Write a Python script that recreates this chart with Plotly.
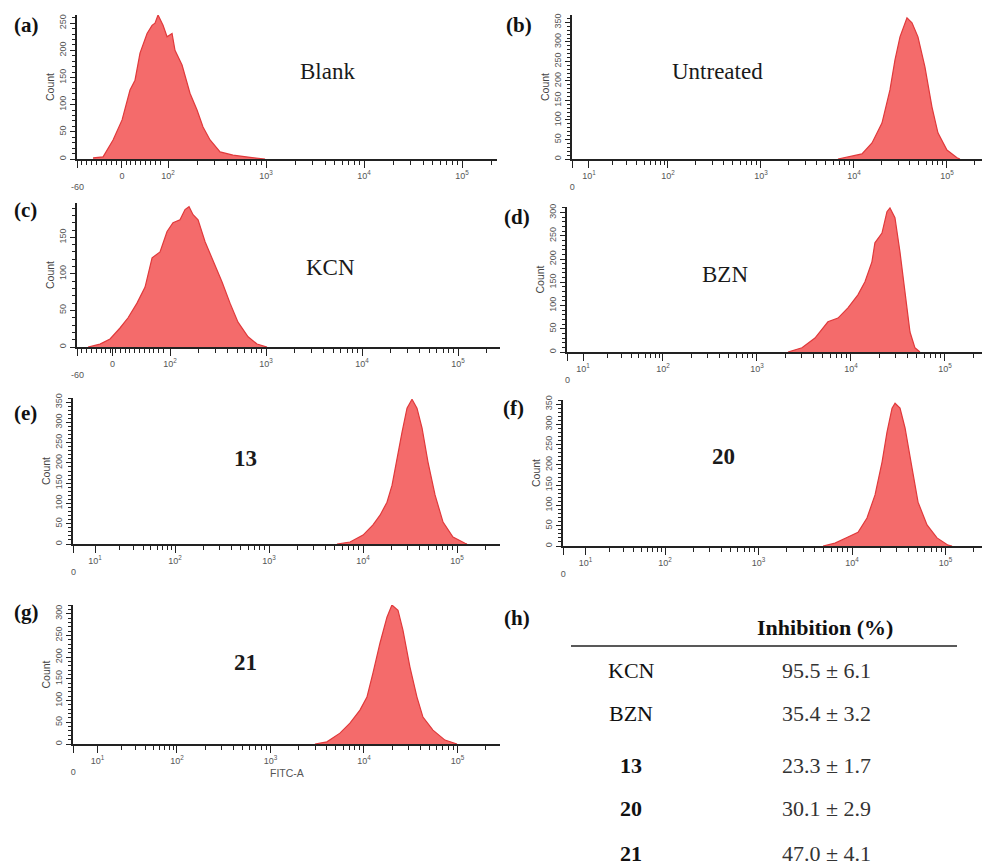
import numpy as np
import plotly.graph_objects as go

W, H = 990, 866
PAGE_OFFSET = 8  # browser body margin that shifts the figure on the page

# ---------------- data (FITC-A position in display decades, cell count) ----------------
blank_x = [1.235, 1.337, 1.439, 1.531, 1.612, 1.663, 1.714, 1.786, 1.837, 1.867, 1.898, 1.949,
           1.990, 2.041, 2.071, 2.143, 2.224, 2.296, 2.357, 2.429, 2.531, 2.663, 2.837, 2.990]
blank_count = [2, 4, 35, 72, 127, 145, 195, 231, 246, 250, 265, 246,
               225, 231, 200, 173, 121, 90, 59, 35, 13, 7, 3, 0]

untreated_x = [3.828, 3.935, 4.086, 4.194, 4.301, 4.387, 4.441, 4.495, 4.570, 4.624, 4.688,
               4.763, 4.839, 4.903, 5.000, 5.108, 5.140]
untreated_count = [0, 5, 13, 41, 92, 177, 254, 313, 362, 349, 313, 236, 133, 67, 23, 3, 0]

kcn_x = [1.146, 1.271, 1.375, 1.479, 1.563, 1.656, 1.740, 1.813, 1.896, 1.969, 2.031, 2.104,
         2.156, 2.198, 2.240, 2.292, 2.365, 2.448, 2.542, 2.625, 2.708, 2.813, 2.906, 3.010]
kcn_count = [0, 4, 11, 26, 40, 60, 82, 122, 130, 158, 170, 174,
             188, 192, 181, 174, 144, 119, 89, 60, 34, 14, 4, 0]

bzn_x = [3.330, 3.479, 3.617, 3.755, 3.862, 3.968, 4.074, 4.149, 4.223, 4.255, 4.330, 4.383,
         4.415, 4.468, 4.521, 4.574, 4.628, 4.681, 4.734]
bzn_count = [0, 9, 30, 65, 73, 95, 123, 151, 194, 235, 256, 302,
             310, 289, 216, 129, 43, 9, 0]

c13_x = [3.723, 3.862, 4.000, 4.106, 4.181, 4.255, 4.309, 4.362, 4.415, 4.468, 4.521, 4.574,
         4.628, 4.691, 4.766, 4.851, 4.957, 5.085, 5.106]
c13_count = [0, 5, 22, 47, 71, 103, 145, 212, 276, 335, 357, 335,
             286, 202, 121, 54, 17, 2, 0]

c20_x = [3.690, 3.818, 3.957, 4.064, 4.160, 4.246, 4.321, 4.374, 4.428, 4.460, 4.513, 4.567,
         4.642, 4.706, 4.802, 4.909, 5.027, 5.070]
c20_count = [0, 7, 22, 34, 69, 126, 207, 281, 340, 352, 340, 291,
             192, 108, 52, 20, 2, 0]

c21_x = [3.476, 3.604, 3.743, 3.850, 3.957, 4.032, 4.096, 4.171, 4.246, 4.299, 4.364, 4.417,
         4.492, 4.567, 4.631, 4.738, 4.866, 4.995]
c21_count = [0, 5, 25, 48, 78, 108, 163, 232, 292, 320, 308, 262,
             177, 108, 62, 32, 9, 0]

sample_labels = ["Blank", "Untreated", "KCN", "BZN", "13", "20", "21"]
panel_letters = ["(a)", "(b)", "(c)", "(d)", "(e)", "(f)", "(g)"]
count_tick_max = [250, 350, 200, 300, 350, 350, 300]

table_compounds = ["KCN", "BZN", "13", "20", "21"]
inhibition_mean = [95.5, 35.4, 23.3, 30.1, 47.0]
inhibition_sd = [6.1, 3.2, 1.7, 2.9, 4.1]

series = [(blank_x, blank_count), (untreated_x, untreated_count), (kcn_x, kcn_count),
          (bzn_x, bzn_count), (c13_x, c13_count), (c20_x, c20_count), (c21_x, c21_count)]

# ---------------- layout geometry (pixels on the page) ----------------
panels = [
    dict(box=(77, 497, 15, 159), xr=(1.071, 5.357), yr=(0, 265), kind="biex", zero=1.53,
         lab=(12, 25), txt=(327, 72), bold=False),
    dict(box=(572, 985, 15, 159), xr=(0.968, 5.409), yr=(0, 369), kind="log",
         lab=(504, 25), txt=(717, 72), bold=False),
    dict(box=(77, 500, 203, 347), xr=(1.031, 5.437), yr=(0, 197), kind="biex", zero=1.40,
         lab=(12, 210), txt=(330, 267), bold=False),
    dict(box=(567, 985, 207, 352), xr=(0.979, 5.426), yr=(0, 312), kind="log",
         lab=(502, 217), txt=(725, 275), bold=False),
    dict(box=(73, 500, 398, 544), xr=(0.915, 5.457), yr=(0, 360), kind="log",
         lab=(12, 413), txt=(245, 458), bold=True),
    dict(box=(563, 985, 400, 546), xr=(0.909, 5.422), yr=(0, 360), kind="log",
         lab=(501, 408), txt=(723, 457), bold=True),
    dict(box=(73, 500, 605, 744), xr=(0.888, 5.455), yr=(0, 320), kind="log",
         lab=(12, 612), txt=(245, 662), bold=True),
]

FILL = "#F46B6B"
EDGE = "#E0393B"
AXC = "#222222"
TICKFONT = dict(family="Liberation Sans, Arial, sans-serif", size=9, color="#555555")
SERIF = "Liberation Serif, Times New Roman, serif"

def px_x(x):
    return (x - PAGE_OFFSET) / W

def px_y(y):
    return 1 - (y - PAGE_OFFSET) / H

def log_minor(decades):
    return [n + np.log10(k) for n in decades for k in range(2, 10)]

fig = go.Figure()
annotations = []
layout = {}

for i, (p, (xs, ys)) in enumerate(zip(panels, series), start=1):
    sfx = "" if i == 1 else str(i)
    fig.add_trace(go.Scatter(
        x=xs, y=ys, mode="lines", fill="tozeroy", fillcolor=FILL,
        line=dict(color=EDGE, width=1.2), xaxis="x" + sfx, yaxis="y" + sfx,
        hoverinfo="skip", showlegend=False))

    l, r, t, b = p["box"]
    x0, x1 = p["xr"]
    sup = ["10<sup>2</sup>", "10<sup>3</sup>", "10<sup>4</sup>", "10<sup>5</sup>"]
    if p["kind"] == "biex":
        tickvals = [x0 + 0.004, p["zero"], 2, 3, 4, 5]
        ticktext = ["<br>-60", "0"] + sup
        minor_vals = list(np.arange(x0 + 0.05, 1.97, 0.05)) + log_minor([2, 3, 4]) + [5 + np.log10(2)]
    else:
        tickvals = [x0 + 0.004, 1.15, 2, 3, 4, 5]
        ticktext = ["<br>0", "10<sup>1</sup>"] + sup
        minor_vals = [1.15 + 0.85 * np.log10(k) for k in range(2, 10)] + log_minor([2, 3, 4]) + [5 + np.log10(2)]

    layout["xaxis" + sfx] = dict(
        domain=[px_x(l), min(px_x(r), 1.0)], range=[x0, x1], anchor="y" + sfx, automargin=False,
        showline=True, linecolor=AXC, linewidth=1.5, showgrid=False, zeroline=False,
        ticks="outside", ticklen=7, tickwidth=1.2, tickcolor=AXC,
        tickmode="array", tickvals=tickvals, ticktext=ticktext, tickfont=TICKFONT,
        minor=dict(tickmode="array", tickvals=minor_vals, ticks="outside", ticklen=4,
                   tickwidth=1, tickcolor=AXC, showgrid=False),
        fixedrange=True)

    ymax = count_tick_max[i - 1]
    layout["yaxis" + sfx] = dict(
        domain=[px_y(b), px_y(t)], range=list(p["yr"]), anchor="x" + sfx, automargin=False,
        showline=True, linecolor=AXC, linewidth=2, showgrid=False, zeroline=False,
        ticks="outside", ticklen=5, tickwidth=1.2, tickcolor=AXC,
        tickmode="array", tickvals=list(range(0, ymax + 1, 50)), tickangle=-90,
        tickfont=dict(family="Liberation Sans, Arial, sans-serif", size=9, color="#555555"),
        minor=dict(dtick=10, tick0=0, ticks="outside", ticklen=3, tickwidth=1, tickcolor=AXC),
        title=dict(text="Count", standoff=2,
                   font=dict(family="Liberation Sans, Arial, sans-serif", size=10.5, color="#444444")),
        fixedrange=True)

    lx, ly = p["lab"]
    annotations.append(dict(x=px_x(lx), y=px_y(ly), xref="paper", yref="paper",
                            text="<b>" + panel_letters[i - 1] + "</b>", showarrow=False,
                            xanchor="left", yanchor="middle",
                            font=dict(family=SERIF, size=21, color="#111111")))
    tx, ty = p["txt"]
    label = sample_labels[i - 1]
    annotations.append(dict(x=px_x(tx), y=px_y(ty), xref="paper", yref="paper",
                            text=("<b>%s</b>" % label) if p["bold"] else label, showarrow=False,
                            xanchor="center", yanchor="middle",
                            font=dict(family=SERIF, size=23, color="#1a1a1a")))

annotations.append(dict(x=px_x(287), y=px_y(773), xref="paper", yref="paper", text="FITC-A",
                        showarrow=False, xanchor="center", yanchor="middle",
                        font=dict(family="Liberation Sans, Arial, sans-serif", size=10.5, color="#555555")))

# ---------------- table (h) ----------------
annotations.append(dict(x=px_x(502), y=px_y(618), xref="paper", yref="paper", text="<b>(h)</b>",
                        showarrow=False, xanchor="left", yanchor="middle",
                        font=dict(family=SERIF, size=21, color="#111111")))
annotations.append(dict(x=px_x(825), y=px_y(627), xref="paper", yref="paper",
                        text="<b>Inhibition (%)</b>", showarrow=False, xanchor="center",
                        yanchor="middle", font=dict(family=SERIF, size=22, color="#111111")))
row_y = [670, 713, 765, 808, 853]
for name, m, s, yy in zip(table_compounds, inhibition_mean, inhibition_sd, row_y):
    is_num = name.isdigit()
    annotations.append(dict(x=px_x(631), y=px_y(yy), xref="paper", yref="paper",
                            text=("<b>%s</b>" % name) if is_num else name, showarrow=False,
                            xanchor="center", yanchor="middle",
                            font=dict(family=SERIF, size=22, color="#111111")))
    annotations.append(dict(x=px_x(826), y=px_y(yy), xref="paper", yref="paper",
                            text="%.1f ± %.1f" % (m, s), showarrow=False,
                            xanchor="center", yanchor="middle",
                            font=dict(family=SERIF, size=22, color="#333333")))

shapes = [dict(type="line", xref="paper", yref="paper", x0=px_x(571), x1=px_x(957),
               y0=px_y(646), y1=px_y(646), line=dict(color="#222222", width=1.6))]

fig.update_layout(
    width=W, height=H, margin=dict(l=0, r=0, t=0, b=0, pad=0), autosize=False,
    paper_bgcolor="white", plot_bgcolor="white", showlegend=False,
    annotations=annotations, shapes=shapes, **layout)

fig.write_html("out.html")
